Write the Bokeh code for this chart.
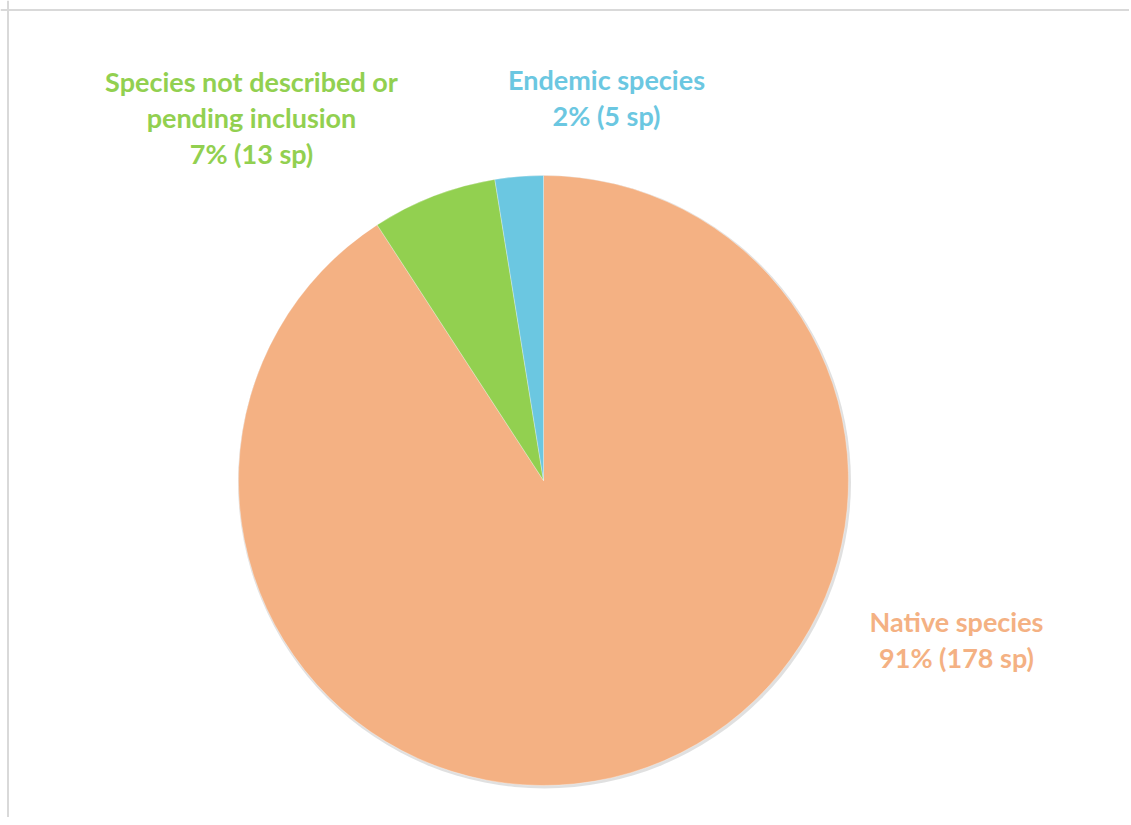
import math
from bokeh.plotting import figure
from bokeh.models import Range1d, Span, ColumnDataSource
from bokeh.core.properties import value
from bokeh.embed import file_html
from bokeh.resources import INLINE

# ---- data ----
categories = ["Native species", "Species not described or\npending inclusion", "Endemic species"]
counts = [178, 13, 5]
percent_labels = ["91%", "7%", "2%"]
colors = ["#F4B183", "#92D050", "#6BC7E1"]

# ---- layout ----
W, H = 1129, 817
CX, CY, R = 543, 337, 305
label_pos = [(956, 178), (251, 700), (606, 720)]

total = sum(counts)
starts, ends = [], []
cum = 0.0
for c in counts:
    a0 = math.pi / 2 - 2 * math.pi * (cum + c) / total
    a1 = math.pi / 2 - 2 * math.pi * cum / total
    starts.append(a0)
    ends.append(a1)
    cum += c

src = ColumnDataSource(dict(
    cat=categories, count=counts, color=colors,
    start=starts, end=ends,
    x=[CX] * len(counts), y=[CY] * len(counts),
))

p = figure(width=W, height=H, output_backend="svg", toolbar_location=None,
           x_range=Range1d(0, W), y_range=Range1d(0, H), min_border=0)
p.axis.visible = False
p.grid.visible = False
p.outline_line_color = None
p.background_fill_color = "white"

# subtle shadow
p.circle(x=[CX + 1], y=[CY - 1.5], radius=R + 1.5, fill_color="#000000", fill_alpha=0.12, line_color=None)

p.wedge(x="x", y="y", radius=R, start_angle="start", end_angle="end",
        fill_color="color", line_color="#ffffff", line_width=0.6, line_alpha=0.5, source=src)

# labels
texts = [f"{c}\n{pl} ({n} sp)" for c, pl, n in zip(categories, percent_labels, counts)]
lsrc = ColumnDataSource(dict(
    x=[lp[0] for lp in label_pos], y=[lp[1] for lp in label_pos],
    text=texts, color=colors,
))
p.text(x="x", y="y", text="text", text_color="color", source=lsrc,
       text_font=value("Lato"), text_font_style="bold", text_font_size="27px",
       text_align="center", text_baseline="middle", text_line_height=1.08)

# chart-area border (left and top)
p.add_layout(Span(location=7.5, dimension="height", line_color="#d9d9d9", line_width=2))
p.add_layout(Span(location=H - 9.5, dimension="width", line_color="#d9d9d9", line_width=2))

open("out.html", "w").write(file_html(p, INLINE))
